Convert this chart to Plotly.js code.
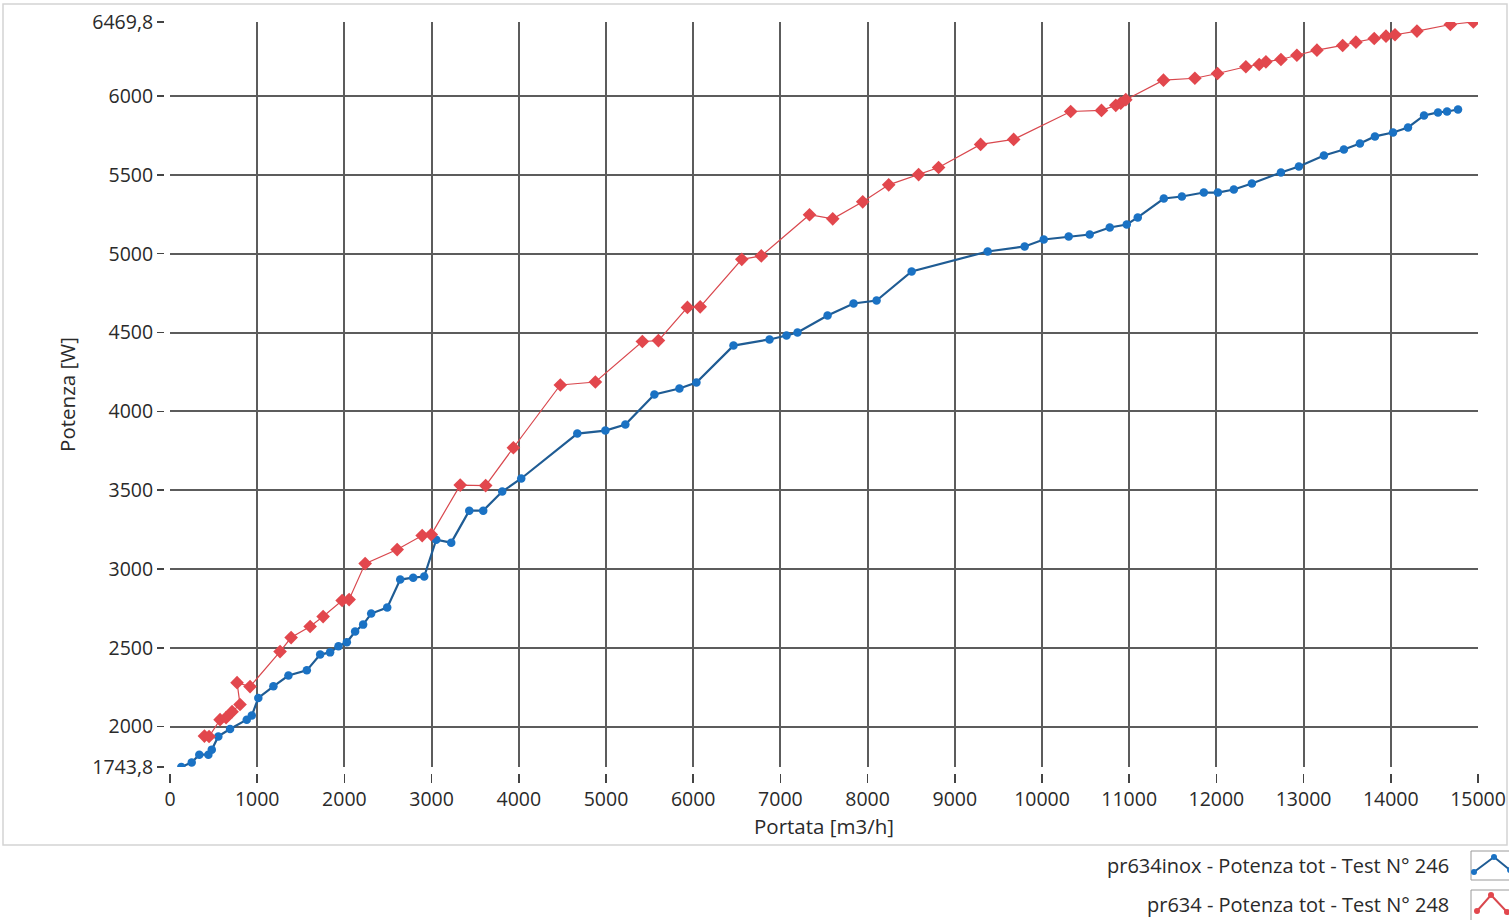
<!DOCTYPE html>
<html>
<head>
<meta charset="utf-8">
<script src="https://cdn.plot.ly/plotly-3.0.1.min.js"></script>
<style>html,body{margin:0;padding:0;background:#fff;}#chart{width:1509px;height:920px;}</style>
</head>
<body>
<div id="chart"></div>
<script>
// ---- data ----
const blueName = "pr634inox - Potenza tot - Test N° 246";
const redName = "pr634 - Potenza tot - Test N° 248";

const blueX = [130,249,336,440,479,554,689,880,938,1013,1186,1358,1569,1722,1836,1932,2028,2123,2215,2307,2491,2640,2789,2915,3053,3225,3432,3592,3810,4028,4671,4993,5222,5555,5842,6037,6462,6875,7070,7196,7541,7839,8103,8505,9377,9801,10020,10306,10547,10777,10972,11098,11397,11604,11856,12017,12200,12407,12740,12946,13233,13462,13646,13818,14025,14197,14381,14541,14645,14771];
const blueY = [1743.8,1773,1822,1822,1854,1938,1985,2044,2070,2182,2256,2324,2357,2457,2471,2510,2535,2603,2647,2717,2755,2933,2945,2952,3186,3167,3370,3370,3491,3574,3859,3878,3916,4107,4145,4183,4417,4456,4481,4500,4608,4684,4703,4887,5014,5046,5090,5109,5122,5166,5185,5230,5350,5363,5388,5388,5407,5445,5515,5553,5623,5661,5699,5744,5769,5801,5877,5896,5902,5915];

const redX = [395,448,574,643,712,803,769,918,1262,1389,1607,1756,1974,2054,2238,2605,2892,2996,3328,3620,3938,4476,4878,5417,5601,5934,6080,6557,6781,7334,7600,7944,8242,8585,8814,9296,9675,10329,10682,10846,10903,10961,11393,11753,12013,12338,12491,12568,12740,12923,13153,13448,13600,13810,13945,14048,14300,14683,14947];
const redY = [1940,1937,2044,2057,2095,2140,2279,2254,2476,2565,2635,2698,2800,2806,3034,3123,3212,3218,3532,3529,3769,4167,4186,4443,4449,4659,4663,4964,4986,5247,5221,5329,5437,5502,5547,5693,5725,5902,5909,5941,5955,5977,6101,6113,6143,6186,6200,6217,6232,6259,6291,6321,6342,6365,6380,6389,6412,6454,6469.8];

const xGridVals = [0,1000,2000,3000,4000,5000,6000,7000,8000,9000,10000,11000,12000,13000,14000];
const xTickVals = [0,1000,2000,3000,4000,5000,6000,7000,8000,9000,10000,11000,12000,13000,14000,15000];
const xTickText = ["0","1000","2000","3000","4000","5000","6000","7000","8000","9000","10000","11000","12000","13000","14000","15000"];
const yGridVals = [2000,2500,3000,3500,4000,4500,5000,5500,6000,6469.8];
const yTickVals = [1743.8,2000,2500,3000,3500,4000,4500,5000,5500,6000,6469.8];
const yTickText = ["1743,8","2000","2500","3000","3500","4000","4500","5000","5500","6000","6469,8"];
const xTitle = "Portata [m3/h]";
const yTitle = "Potenza [W]";

// ---- geometry helpers (pixel -> paper) ----
const W = 1509, H = 920;
const M = {l:164, r:31, t:22, b:147};
const PW = W - M.l - M.r, PH = H - M.t - M.b;
const px = v => (v - M.l) / PW;
const py = v => (H - M.b - v) / PH;

const blueLine = "#1f5c94", blueMark = "#1a72c4";
const redLine = "#d9484e", redMark = "#e2474d";
const gridC = "#5c5c5c";
const txtC = "#2a2a2a";
const FONT = "Open Sans";

const traces = [
  {x: blueX, y: blueY, type: "scatter", mode: "lines+markers", name: blueName,
   line: {color: blueLine, width: 2.2}, marker: {symbol: "circle", size: 8.5, color: blueMark}},
  {x: redX, y: redY, type: "scatter", mode: "lines+markers", name: redName,
   line: {color: redLine, width: 1.2}, marker: {symbol: "diamond", size: 10.5, color: redMark}}
];

function legendIcon(y0, y1, color, lineColor, symbolCircle) {
  const x0 = 1471, x1 = 1512;
  const pts = symbolCircle
    ? [[1474, y0 + 21], [1494, y0 + 6], [1510, y0 + 19]]
    : [[1477, y0 + 21], [1491, y0 + 5], [1507, y0 + 22]];
  const shapes = [{type: "rect", xref: "paper", yref: "paper", x0: px(x0), x1: px(x1), y0: py(y1), y1: py(y0),
    line: {color: "#9a9a9a", width: 1}, fillcolor: "rgba(0,0,0,0)"}];
  let d = "M " + pts.map(p => px(p[0]) + "," + py(p[1])).join(" L ");
  shapes.push({type: "path", xref: "paper", yref: "paper", path: d, line: {color: lineColor, width: 2}});
  pts.forEach(p => {
    const r = 3;
    shapes.push({type: "circle", xref: "paper", yref: "paper",
      x0: px(p[0] - r), x1: px(p[0] + r), y0: py(p[1] + r), y1: py(p[1] - r),
      line: {width: 0}, fillcolor: color});
  });
  return shapes;
}

const shapes = [
  {type: "rect", xref: "paper", yref: "paper", x0: px(3), x1: px(1507), y0: py(845), y1: py(4),
   line: {color: "#d4d4d4", width: 1.5}, fillcolor: "rgba(0,0,0,0)", layer: "below"},
  ...legendIcon(851, 880, blueMark, blueLine, true),
  ...legendIcon(890, 922, redMark, redLine, false)
];

const annotations = [
  {xref: "paper", yref: "paper", x: px(1451), y: py(865), xanchor: "right", yanchor: "middle",
   text: blueName, showarrow: false, font: {family: FONT, size: 20, color: txtC}},
  {xref: "paper", yref: "paper", x: px(1451), y: py(904), xanchor: "right", yanchor: "middle",
   text: redName, showarrow: false, font: {family: FONT, size: 20, color: txtC}}
];

const tickFont = {family: FONT, size: 19.5, color: txtC};
const yDom0 = 6 / PH, xDom0 = 6 / PW;

const layout = {
  width: W, height: H,
  margin: M,
  paper_bgcolor: "#ffffff", plot_bgcolor: "#ffffff",
  showlegend: false,
  font: {family: FONT, color: txtC},
  xaxis: {range: [0, 15000], domain: [xDom0, 1], tickmode: "array", tickvals: xGridVals,
          showticklabels: false, ticks: "", showgrid: true, gridcolor: gridC, gridwidth: 2,
          zeroline: false, showline: false, fixedrange: true},
  yaxis: {range: [1743.8, 6469.8], domain: [yDom0, 1], tickmode: "array", tickvals: yGridVals,
          showticklabels: false, ticks: "", showgrid: true, gridcolor: gridC, gridwidth: 2,
          zeroline: false, showline: false, fixedrange: true},
  xaxis2: {overlaying: "x", matches: "x", anchor: "free", position: 0, side: "bottom",
           tickmode: "array", tickvals: xTickVals, ticktext: xTickText,
           ticks: "outside", ticklen: 9, tickwidth: 1.5, tickcolor: "#444",
           showgrid: false, zeroline: false, showline: false, tickfont: tickFont,
           title: {text: xTitle, font: {family: FONT, size: 20.5, color: txtC}, standoff: 6}},
  yaxis2: {overlaying: "y", matches: "y", anchor: "free", position: 0, side: "left",
           tickmode: "array", tickvals: yTickVals, ticktext: yTickText,
           ticks: "outside", ticklen: 7, tickwidth: 1.5, tickcolor: "#444",
           showgrid: false, zeroline: false, showline: false, tickfont: tickFont,
           title: {text: yTitle, font: {family: FONT, size: 20.5, color: txtC}, standoff: 10}},
  shapes: shapes,
  annotations: annotations
};

// invisible trace so the overlay axes are drawn
const ghosts = [
  {x: [0, 15000], y: [1743.8, 6469.8], xaxis: "x2", yaxis: "y2", type: "scatter", mode: "markers",
   marker: {opacity: 0}, hoverinfo: "skip", showlegend: false}
];

Plotly.newPlot("chart", traces.concat(ghosts), layout, {displayModeBar: false, staticPlot: true});
</script>
</body>
</html>
